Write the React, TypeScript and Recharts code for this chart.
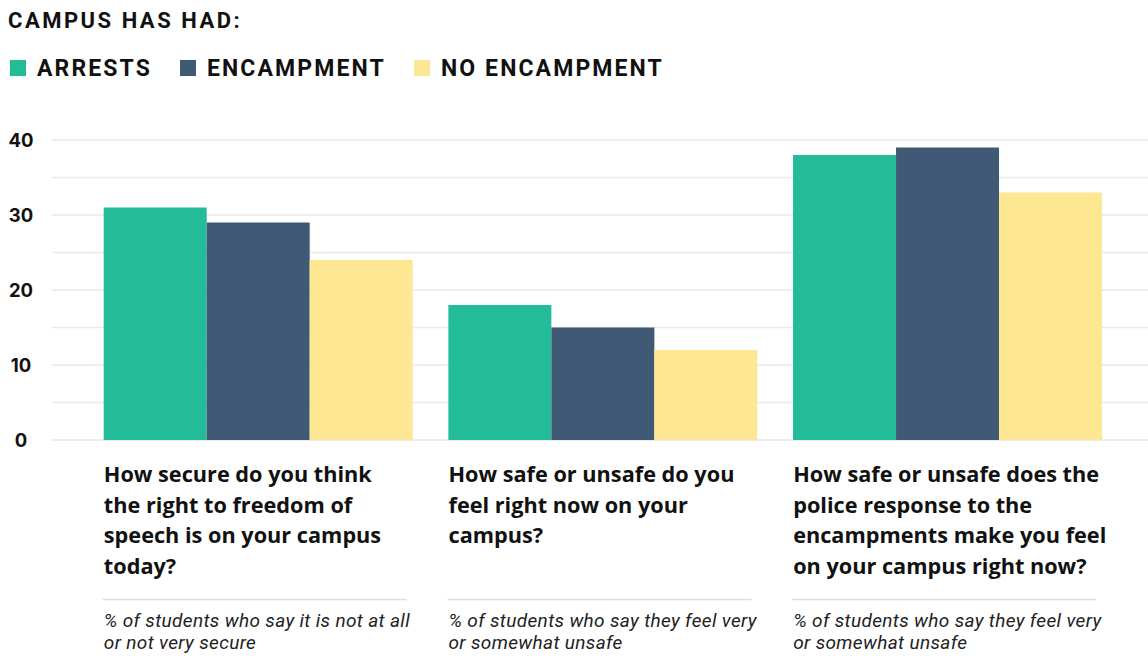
import { Bar, BarChart, CartesianGrid, XAxis, YAxis } from "recharts"

const questions = ["freedom", "safety", "police"]
const arrests = [31, 18, 38]
const encampment = [29, 15, 39]
const noEncampment = [24, 12, 33]

const questionLines = [
  ["How secure do you think", "the right to freedom of", "speech is on your campus", "today?"],
  ["How safe or unsafe do you", "feel right now on your", "campus?"],
  ["How safe or unsafe does the", "police response to the", "encampments make you feel", "on your campus right now?"],
]
const noteLines = [
  ["% of students who say it is not at all", "or not very secure"],
  ["% of students who say they feel very", "or somewhat unsafe"],
  ["% of students who say they feel very", "or somewhat unsafe"],
]

const yTicks = [0, 5, 10, 15, 20, 25, 30, 35, 40]

const legendItems = [
  { key: "arrests", label: "ARRESTS", color: "#23bc98", square: 10, text: 37 },
  { key: "encampment", label: "ENCAMPMENT", color: "#405a75", square: 180, text: 207 },
  { key: "noEncampment", label: "NO ENCAMPMENT", color: "#fde792", square: 414, text: 441 },
]

const data = questions.map((q, i) => ({
  question: q,
  arrests: arrests[i],
  encampment: encampment[i],
  noEncampment: noEncampment[i],
}))

const HEAD_FONT = "Roboto, 'Liberation Sans', sans-serif"
const GROUP_HALF = 155

function QuestionTick({ x, y, index }: any) {
  const left = x - GROUP_HALF
  const lines = questionLines[index] ?? []
  const notes = noteLines[index] ?? []
  return (
    <g>
      <text fontFamily="'Open Sans', sans-serif" fontWeight={700} fontSize={21.7} fill="#111">
        {lines.map((line, i) => (
          <tspan key={i} x={left} y={y + 42 + i * 30.6}>{line}</tspan>
        ))}
      </text>
      <line x1={left - 1} x2={left + 303} y1={y + 159.5} y2={y + 159.5} stroke="#dedede" strokeWidth={1.5} />
      <text fontFamily="Roboto, sans-serif" fontStyle="italic" fontSize={19} letterSpacing={0.35} fill="#222">
        {notes.map((line, i) => (
          <tspan key={i} x={left} y={y + 187 + i * 21.5}>{line}</tspan>
        ))}
      </text>
    </g>
  )
}

function ValueTick({ x, y, payload }: any) {
  if (payload.value % 10 !== 0) return <g />
  return (
    <text x={x - 31} y={y} dy={6.5} textAnchor="middle" fontFamily="Inter, sans-serif" fontWeight={700} fontSize={18.5} fill="#111">
      {payload.value}
    </text>
  )
}

export default function App() {
  return (
    <div style={{ position: "absolute", left: 0, top: 0, width: 1148, height: 656, background: "#fff" }}>
      <div
        style={{
          position: "absolute",
          left: 8,
          top: 10,
          fontFamily: HEAD_FONT,
          fontWeight: 700,
          fontSize: 22,
          lineHeight: "22px",
          letterSpacing: 2.5,
          color: "#111",
          whiteSpace: "nowrap",
        }}
      >
        CAMPUS HAS HAD:
      </div>
      {legendItems.map((item) => (
        <div key={item.key}>
          <div style={{ position: "absolute", left: item.square, top: 59.5, width: 16, height: 16.5, background: item.color }} />
          <div
            style={{
              position: "absolute",
              left: item.text,
              top: 56.5,
              fontFamily: HEAD_FONT,
              fontWeight: 700,
              fontSize: 23,
              lineHeight: "23px",
              letterSpacing: 2.1,
              color: "#111",
              whiteSpace: "nowrap",
            }}
          >
            {item.label}
          </div>
        </div>
      ))}
      <BarChart
        width={1148}
        height={656}
        data={data}
        margin={{ top: 140, right: 0, bottom: 0, left: 0 }}
        barCategoryGap={17.2}
        barGap={0}
      >
        <CartesianGrid vertical={false} stroke="#e9e9e9" strokeWidth={1.5} />
        <XAxis
          dataKey="question"
          height={216}
          axisLine={false}
          tickLine={false}
          tickSize={0}
          tickMargin={0}
          padding={{ left: 34.5, right: 27.5 }}
          interval={0}
          tick={<QuestionTick />}
        />
        <YAxis
          width={52}
          domain={[0, 40]}
          ticks={yTicks}
          interval={0}
          axisLine={false}
          tickLine={false}
          tickSize={0}
          tickMargin={0}
          tick={<ValueTick />}
        />
        <Bar dataKey="arrests" fill="#23bc98" isAnimationActive={false} />
        <Bar dataKey="encampment" fill="#405a75" isAnimationActive={false} />
        <Bar dataKey="noEncampment" fill="#fde792" isAnimationActive={false} />
      </BarChart>
    </div>
  )
}
